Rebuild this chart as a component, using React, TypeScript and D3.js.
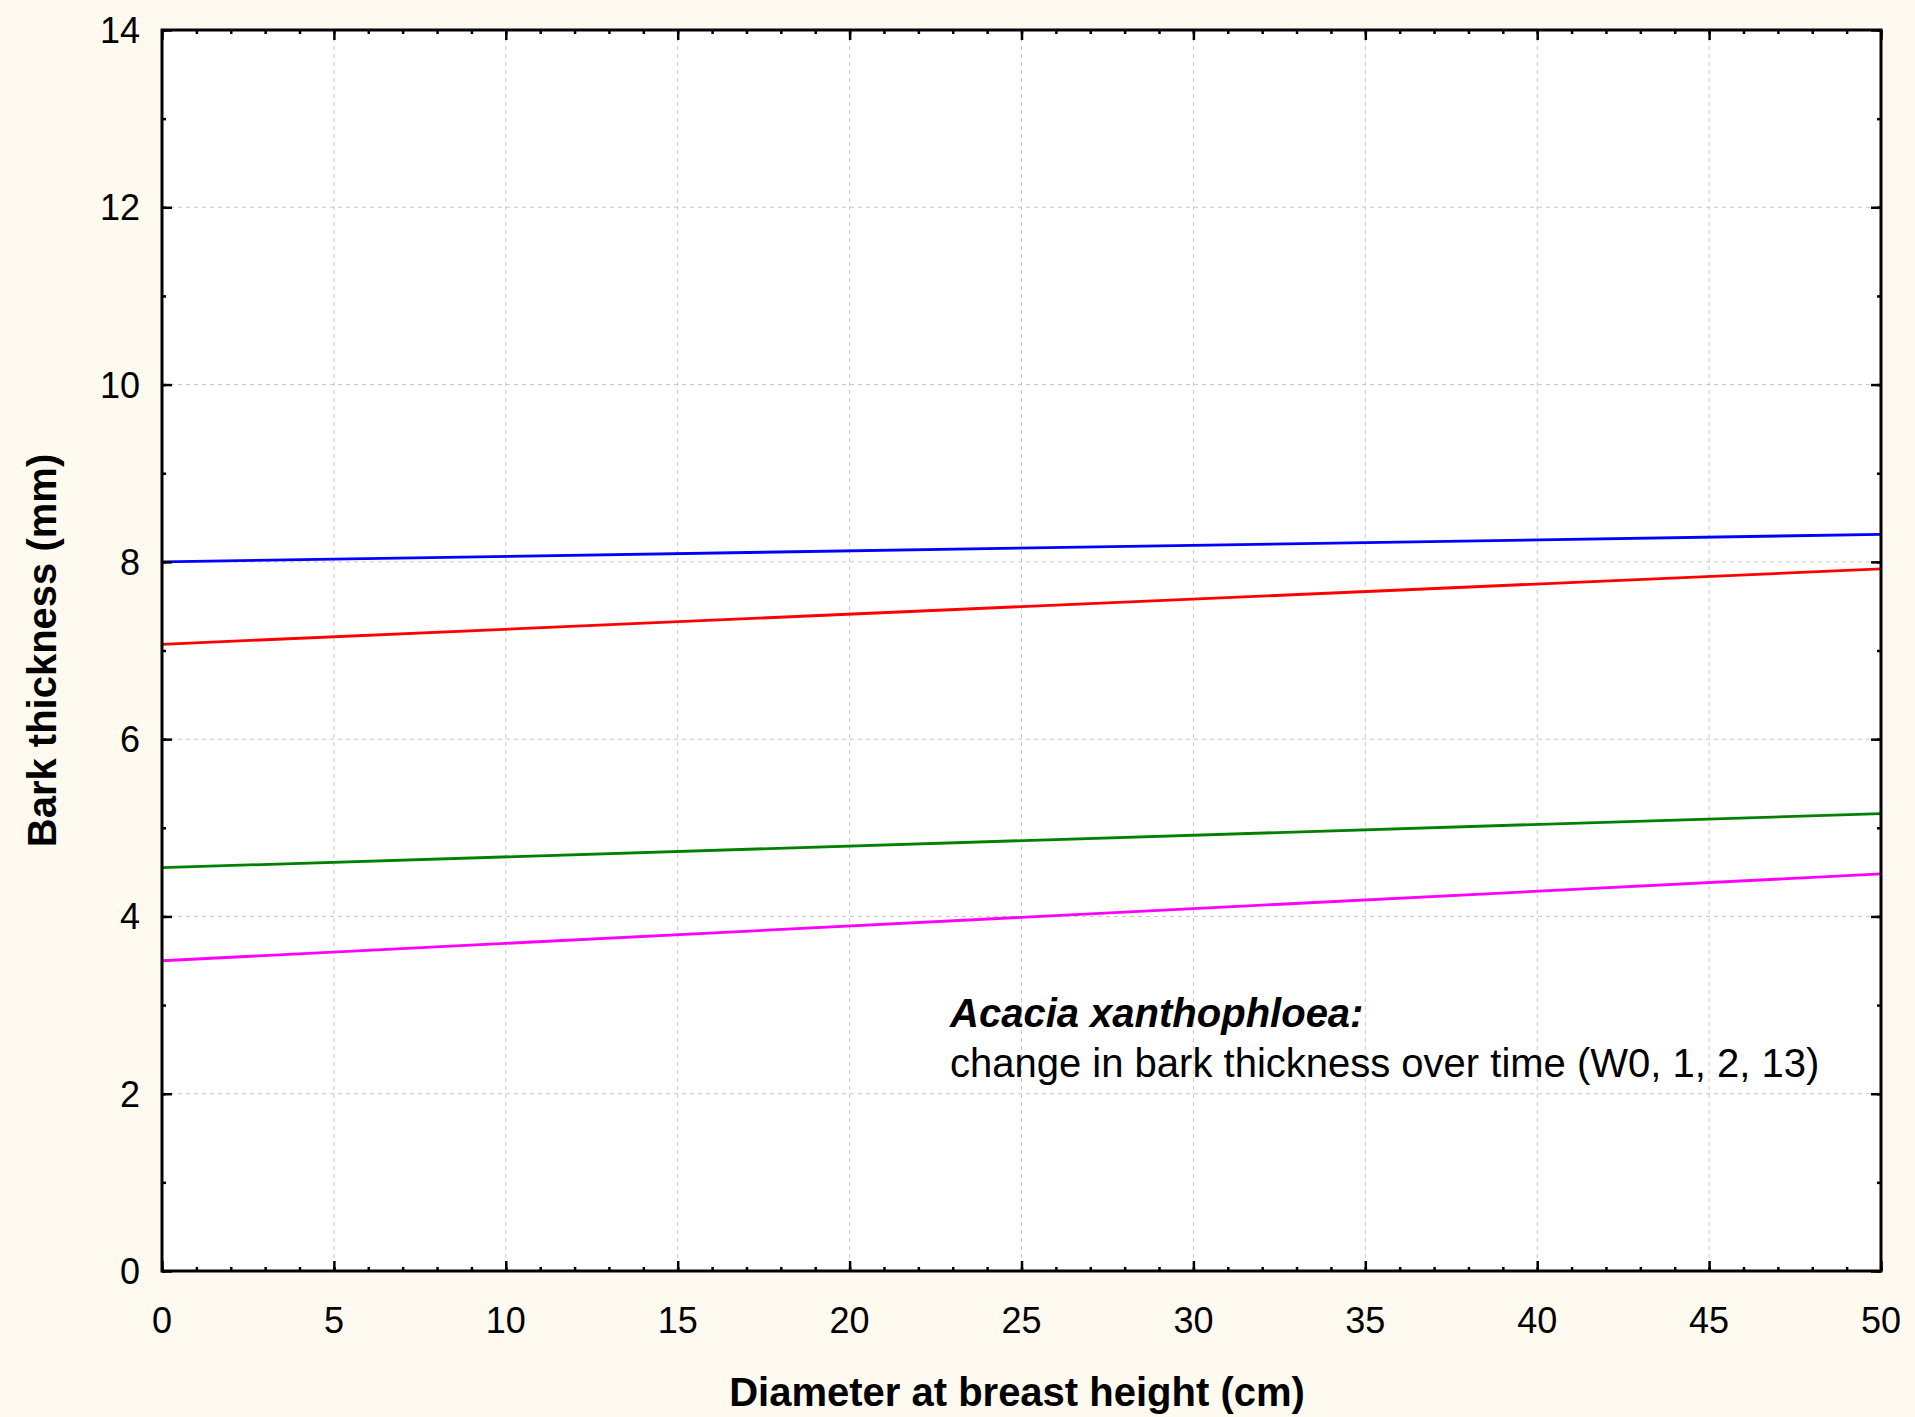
import React, { useEffect, useRef } from "react";
import * as d3 from "d3";

// diameter at breast height (cm) at the two ends of each fitted line
const dbh = [0, 50];
const seriesNames = ["W0", "W1", "W2", "W13"];
const seriesColors = ["#0000ff", "#ff0000", "#008000", "#ff00ff"];
const barkW0 = [8.0, 8.31];
const barkW1 = [7.07, 7.92];
const barkW2 = [4.55, 5.16];
const barkW13 = [3.5, 4.48];
const xTicks = [0, 5, 10, 15, 20, 25, 30, 35, 40, 45, 50];
const yTicks = [0, 2, 4, 6, 8, 10, 12, 14];

const W = 1915;
const H = 1417;
const margin = { top: 30, right: 34, bottom: 146, left: 162 };

const App = () => {
  const ref = useRef<SVGSVGElement>(null);

  useEffect(() => {
    if (!ref.current) return;
    const svg = d3.select(ref.current);
    svg.selectAll("*").remove();

    const width = W - margin.left - margin.right;
    const height = H - margin.top - margin.bottom;

    const x = d3.scaleLinear().domain([0, 50]).range([0, width]);
    const y = d3.scaleLinear().domain([0, 14]).range([height, 0]);

    svg.append("rect").attr("width", W).attr("height", H).attr("fill", "#fffaf0");

    const g = svg
      .append("g")
      .attr("transform", `translate(${margin.left},${margin.top})`);

    g.append("rect").attr("width", width).attr("height", height).attr("fill", "#ffffff");

    // grid
    g.append("g")
      .selectAll("line")
      .data(xTicks.slice(1, -1))
      .join("line")
      .attr("x1", (d) => x(d))
      .attr("x2", (d) => x(d))
      .attr("y1", 0)
      .attr("y2", height)
      .attr("stroke", "#c8c8c8")
      .attr("stroke-width", 1)
      .attr("stroke-dasharray", "4,4");

    g.append("g")
      .selectAll("line")
      .data(yTicks.slice(1, -1))
      .join("line")
      .attr("x1", 0)
      .attr("x2", width)
      .attr("y1", (d) => y(d))
      .attr("y2", (d) => y(d))
      .attr("stroke", "#c8c8c8")
      .attr("stroke-width", 1)
      .attr("stroke-dasharray", "4,4");

    // lines
    const line = d3
      .line<number>()
      .x((_, i) => x(dbh[i]))
      .y((d) => y(d));

    [barkW0, barkW1, barkW2, barkW13].forEach((vals, i) => {
      g.append("path")
        .datum(vals)
        .attr("class", "series-" + seriesNames[i])
        .attr("d", line)
        .attr("fill", "none")
        .attr("stroke", seriesColors[i])
        .attr("stroke-width", 2.8);
    });

    // axes (ticks inside on all four sides)
    const styleAxis = (sel) => {
      sel.select(".domain").remove();
      sel.selectAll(".tick line").attr("stroke", "#000").attr("stroke-width", 2.5);
      sel.selectAll("text").remove();
    };
    const xMinor = d3.range(0, 51, 1);
    const yMinor = d3.range(0, 15, 1);

    g.append("g")
      .attr("transform", `translate(0,${height})`)
      .call(d3.axisTop(x).tickValues(xMinor).tickSize(4))
      .call(styleAxis);
    g.append("g")
      .attr("transform", `translate(0,${height})`)
      .call(d3.axisTop(x).tickValues(xTicks).tickSize(10))
      .call(styleAxis);
    g.append("g")
      .call(d3.axisBottom(x).tickValues(xMinor).tickSize(4))
      .call(styleAxis);
    g.append("g")
      .call(d3.axisBottom(x).tickValues(xTicks).tickSize(10))
      .call(styleAxis);
    g.append("g")
      .call(d3.axisRight(y).tickValues(yMinor).tickSize(4))
      .call(styleAxis);
    g.append("g")
      .call(d3.axisRight(y).tickValues(yTicks).tickSize(10))
      .call(styleAxis);
    g.append("g")
      .attr("transform", `translate(${width},0)`)
      .call(d3.axisLeft(y).tickValues(yMinor).tickSize(4))
      .call(styleAxis);
    g.append("g")
      .attr("transform", `translate(${width},0)`)
      .call(d3.axisLeft(y).tickValues(yTicks).tickSize(10))
      .call(styleAxis);

    // frame
    g.append("rect")
      .attr("width", width)
      .attr("height", height)
      .attr("fill", "none")
      .attr("stroke", "#000")
      .attr("stroke-width", 3);

    const font = "Liberation Sans, Arial, sans-serif";

    // tick labels
    g.append("g")
      .selectAll("text")
      .data(xTicks)
      .join("text")
      .attr("x", (d) => x(d))
      .attr("y", height + 62)
      .attr("text-anchor", "middle")
      .attr("font-family", font)
      .attr("font-size", 36)
      .attr("fill", "#000")
      .text((d) => d);

    g.append("g")
      .selectAll("text")
      .data(yTicks)
      .join("text")
      .attr("x", -22)
      .attr("y", (d) => y(d))
      .attr("dy", "0.36em")
      .attr("text-anchor", "end")
      .attr("font-family", font)
      .attr("font-size", 36)
      .attr("fill", "#000")
      .text((d) => d);

    // axis titles
    svg
      .append("text")
      .attr("x", 1017)
      .attr("y", 1406)
      .attr("text-anchor", "middle")
      .attr("font-family", font)
      .attr("font-weight", "bold")
      .attr("font-size", 40)
      .attr("fill", "#000")
      .text("Diameter at breast height (cm)");

    svg
      .append("text")
      .attr("transform", `translate(56,${margin.top + height / 2}) rotate(-90)`)
      .attr("text-anchor", "middle")
      .attr("font-family", font)
      .attr("font-weight", "bold")
      .attr("font-size", 40)
      .attr("fill", "#000")
      .text("Bark thickness (mm)");

    // annotation
    svg
      .append("text")
      .attr("x", 950)
      .attr("y", 1027)
      .attr("font-family", font)
      .attr("font-weight", "bold")
      .attr("font-style", "italic")
      .attr("font-size", 40)
      .attr("fill", "#000")
      .text("Acacia xanthophloea:");

    svg
      .append("text")
      .attr("x", 950)
      .attr("y", 1077)
      .attr("font-family", font)
      .attr("font-size", 40)
      .attr("fill", "#000")
      .text("change in bark thickness over time (W0, 1, 2, 13)");
  }, []);

  return (
    <svg
      ref={ref}
      width={W}
      height={H}
      style={{ position: "absolute", left: 0, top: 0, display: "block" }}
    ></svg>
  );
};

export default App;
